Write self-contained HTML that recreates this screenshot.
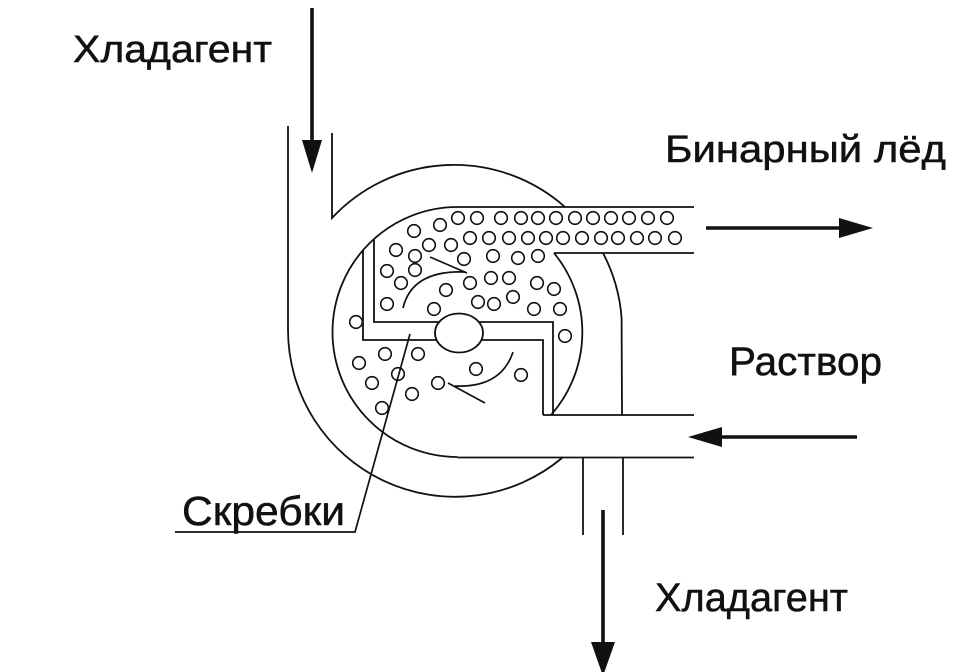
<!DOCTYPE html>
<html>
<head>
<meta charset="utf-8">
<style>
  html, body { margin: 0; padding: 0; background: #fff; }
  svg { display: block; }
  text { font-family: "Liberation Sans", "DejaVu Sans", sans-serif; fill: #111; stroke: #111; stroke-width: 0.5; }
</style>
</head>
<body>
<svg width="980" height="672" viewBox="0 0 980 672" xmlns="http://www.w3.org/2000/svg">
  <rect width="980" height="672" fill="#fff"/>

  <g fill="none" stroke="#111" stroke-width="1.8" stroke-linecap="butt" stroke-linejoin="miter">
    <!-- Outer shell: left pipe wall going around bottom -->
    <path d="M288,126 L288,330 A167,167 0 0 0 562,458"/>
    <!-- Inner wall of inlet pipe, arc over top -->
    <path d="M332,133 L332,218 A167,167 0 0 1 565,207"/>
    <!-- Right outer side -->
    <path d="M603,253 A167,167 0 0 1 621.6,318 L622,415"/>

    <!-- Upper (binary ice) pipe -->
    <path d="M457.5,207 L694,207"/>
    <path d="M554,253 L694,253"/>

    <!-- Lower (solution) pipe -->
    <path d="M543,415 L694,415"/>
    <path d="M457.5,457.5 L694,457.5"/>

    <!-- Outlet pipe bottom -->
    <path d="M583,458 L583,535"/>
    <path d="M623,458 L623,535"/>

    <!-- Inner circle: top -> left -> bottom -->
    <path d="M457.5,207 A125,125 0 0 0 332.5,332 A125,125 0 0 0 457.5,457"/>
    <!-- Inner circle right side -->
    <path d="M554,253 A125,125 0 0 1 551,415"/>

    <!-- Scraper Z shape -->
    <path d="M374,239 L374,322 L553,322 L553,415"/>
    <path d="M363,250 L363,340 L543,340 L543,415"/>
  </g>

  <!-- Central shaft ellipse -->
  <ellipse cx="459" cy="333" rx="24" ry="19.5" fill="#fff" stroke="#111" stroke-width="1.8"/>

  <!-- Rotation arrows -->
  <g fill="none" stroke="#111" stroke-width="1.7">
    <path d="M403,308 Q412,270 465,272"/>
    <path d="M430,257 L467,273"/>
    <path d="M513,352 Q501,388 455,386"/>
    <path d="M448,383 L485,403"/>
  </g>

  <!-- Bubbles -->
  <g fill="#fff" stroke="#111" stroke-width="1.6">
    <!-- pipe row 1 -->
    <circle cx="458" cy="218" r="6.3"/><circle cx="477" cy="218" r="6.3"/><circle cx="501" cy="218" r="6.3"/>
    <circle cx="521" cy="218" r="6.3"/><circle cx="538" cy="218" r="6.3"/><circle cx="556" cy="218" r="6.3"/>
    <circle cx="575" cy="218" r="6.3"/><circle cx="593" cy="218" r="6.3"/><circle cx="611" cy="218" r="6.3"/>
    <circle cx="629" cy="218" r="6.3"/><circle cx="648" cy="218" r="6.3"/><circle cx="667" cy="218" r="6.3"/>
    <!-- pipe row 2 -->
    <circle cx="470" cy="238" r="6.3"/><circle cx="489" cy="238" r="6.3"/><circle cx="509" cy="238" r="6.3"/>
    <circle cx="528" cy="238" r="6.3"/><circle cx="546" cy="238" r="6.3"/><circle cx="563" cy="238" r="6.3"/>
    <circle cx="582" cy="238" r="6.3"/><circle cx="601" cy="238" r="6.3"/><circle cx="618" cy="238" r="6.3"/>
    <circle cx="637" cy="238" r="6.3"/><circle cx="655" cy="238" r="6.3"/><circle cx="675" cy="238" r="6.3"/>
    <!-- chamber -->
    <circle cx="440" cy="225" r="6.3"/><circle cx="414" cy="231" r="6.3"/><circle cx="429" cy="245" r="6.3"/>
    <circle cx="451" cy="245" r="6.3"/><circle cx="396" cy="250" r="6.3"/><circle cx="415" cy="256" r="6.3"/>
    <circle cx="464" cy="259" r="6.3"/><circle cx="493" cy="256" r="6.3"/><circle cx="518" cy="258" r="6.3"/>
    <circle cx="538" cy="256" r="6.3"/><circle cx="387" cy="271" r="6.3"/><circle cx="415" cy="270" r="6.3"/>
    <circle cx="401" cy="283" r="6.3"/><circle cx="470" cy="283" r="6.3"/><circle cx="491" cy="278" r="6.3"/>
    <circle cx="509" cy="278" r="6.3"/><circle cx="537" cy="283" r="6.3"/><circle cx="554" cy="289" r="6.3"/>
    <circle cx="446" cy="290" r="6.3"/><circle cx="513" cy="297" r="6.3"/><circle cx="387" cy="304" r="6.3"/>
    <circle cx="434" cy="309" r="6.3"/><circle cx="478" cy="302" r="6.3"/><circle cx="494" cy="304" r="6.3"/>
    <circle cx="534" cy="309" r="6.3"/><circle cx="560" cy="309" r="6.3"/><circle cx="356" cy="322" r="6.3"/>
    <circle cx="565" cy="336" r="6.3"/><circle cx="359" cy="363" r="6.3"/><circle cx="385" cy="354" r="6.3"/>
    <circle cx="418" cy="354" r="6.3"/><circle cx="372" cy="383" r="6.3"/><circle cx="398" cy="374" r="6.3"/>
    <circle cx="438" cy="383" r="6.3"/><circle cx="476" cy="369" r="6.3"/><circle cx="521" cy="375" r="6.3"/>
    <circle cx="412" cy="394" r="6.3"/><circle cx="382" cy="408" r="6.3"/>
  </g>

  <!-- Leader line for scrapers -->
  <path d="M410,334 L355,532 L175,532" fill="none" stroke="#111" stroke-width="1.7"/>

  <!-- Flow arrows -->
  <g stroke="#111" stroke-width="3.6" fill="none">
    <path d="M312,8 L312,142"/>
    <path d="M706,228 L842,228"/>
    <path d="M720,437 L857,437"/>
    <path d="M603,510 L603,645"/>
  </g>
  <g fill="#111" stroke="none">
    <polygon points="302,140 322,140 312,173"/>
    <polygon points="839,218 839,238 873,228"/>
    <polygon points="722,427 722,447 688,437"/>
    <polygon points="591,642 615,642 603,676"/>
  </g>

  <!-- Labels -->
  <text x="73" y="62" font-size="38" textLength="199" lengthAdjust="spacingAndGlyphs">Хладагент</text>
  <text x="665" y="162" font-size="38" textLength="281" lengthAdjust="spacingAndGlyphs">Бинарный лёд</text>
  <text x="729" y="375" font-size="40" textLength="153" lengthAdjust="spacingAndGlyphs">Раствор</text>
  <text x="182" y="525" font-size="41" textLength="163" lengthAdjust="spacingAndGlyphs">Скребки</text>
  <text x="655" y="611" font-size="40" textLength="193" lengthAdjust="spacingAndGlyphs">Хладагент</text>
</svg>
</body>
</html>
